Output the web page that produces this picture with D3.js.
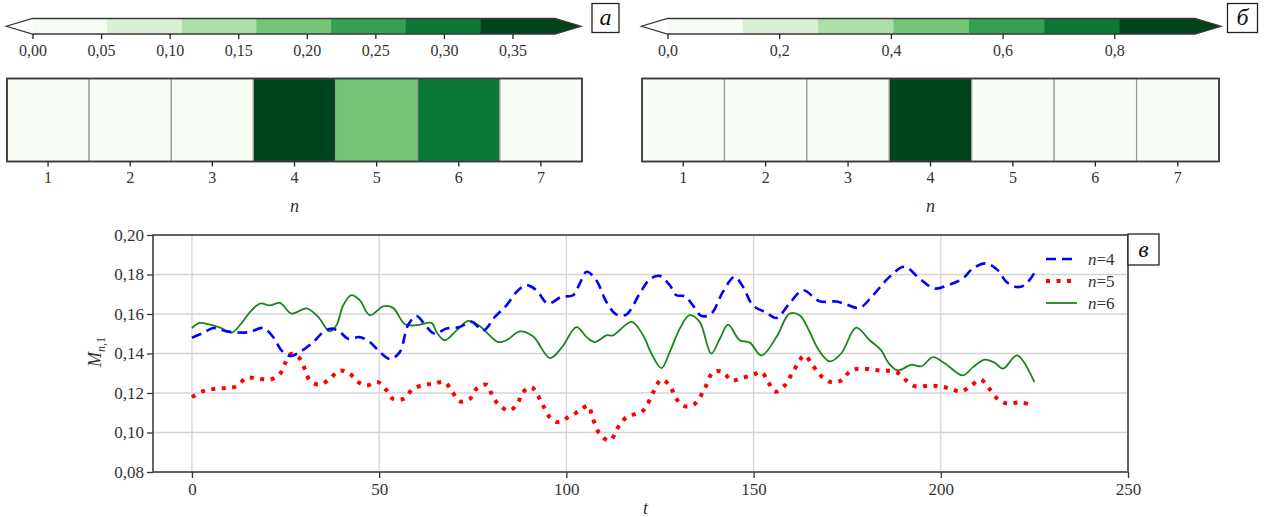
<!DOCTYPE html>
<html>
<head>
<meta charset="utf-8">
<script src="https://cdn.jsdelivr.net/npm/d3@7"></script>
<style>
  body { margin: 0; background: #fff; }
  svg text { font-family: "Liberation Serif", "Times New Roman", Tinos, "DejaVu Serif", serif !important; }
</style>
</head>
<body>
<script>
// values
var cells = [1, 2, 3, 4, 5, 6, 7];
var valuesA = [0.04, 0.03, 0.04, 0.36, 0.19, 0.30, 0.04];
var valuesB = [0.01, 0.01, 0.02, 0.93, 0.01, 0.01, 0.01];
var ticksA = [0, 0.05, 0.10, 0.15, 0.20, 0.25, 0.30, 0.35];
var ticksB = [0, 0.2, 0.4, 0.6, 0.8];
var greens = ["#f7fcf5", "#d9f0d3", "#aedea7", "#73c476", "#37a055", "#0b7734", "#00441b"];

var xTicks = [0, 50, 100, 150, 200, 250];
var yTicks = [0.08, 0.10, 0.12, 0.14, 0.16, 0.18, 0.20];

var n4 = [[0,0.148],[3,0.1504],[5.7,0.1529],[9.3,0.1512],[12.8,0.1506],[15.5,0.1509],[19,0.1529],[21.7,0.1483],[23.9,0.1416],[26.2,0.1387],[28.8,0.1407],[32.4,0.1458],[35.1,0.1509],[37.3,0.1526],[39.5,0.1509],[41.7,0.1475],[44.8,0.1483],[47.5,0.1458],[50.2,0.1407],[52.9,0.1372],[55.5,0.1407],[57.7,0.1543],[60,0.159],[62.7,0.1534],[64.9,0.15],[68,0.1526],[71.5,0.1534],[74.7,0.156],[77.8,0.1517],[80.9,0.1585],[84,0.1644],[86.7,0.1712],[89.3,0.1746],[92,0.172],[95.1,0.1653],[98.7,0.1687],[101.8,0.1695],[103.6,0.1755],[105.4,0.1814],[108,0.1771],[110.7,0.1661],[113.4,0.1597],[116,0.1597],[119.6,0.1704],[122.3,0.1776],[124.9,0.1793],[127.6,0.1746],[129.4,0.1695],[131.6,0.169],[133.8,0.1644],[136.1,0.159],[138.7,0.1602],[141.8,0.1712],[144.9,0.1788],[147.2,0.1737],[149.8,0.1644],[153.4,0.1607],[156.1,0.158],[159.6,0.1653],[163.2,0.172],[167.6,0.1665],[172.1,0.1663],[174.8,0.1648],[178.3,0.1631],[181.9,0.1695],[186.3,0.1788],[190.3,0.1839],[194.3,0.178],[198.3,0.1729],[201.9,0.1746],[205.9,0.178],[208.6,0.1831],[212.1,0.1856],[215.2,0.1822],[217.5,0.1763],[220.1,0.1737],[222.4,0.1746],[225,0.1808]];

var n5 = [[0,0.1179],[3,0.1209],[6.1,0.1221],[9.3,0.1226],[11.9,0.1234],[14.6,0.1277],[17.3,0.1274],[20.8,0.1268],[23.5,0.1297],[24.8,0.1348],[26.6,0.1399],[28.8,0.1374],[30.2,0.1319],[31.5,0.1263],[34.2,0.1242],[36.8,0.1272],[39.5,0.1314],[42.2,0.1297],[44.4,0.1255],[46.6,0.1238],[49.7,0.1255],[52,0.1213],[53.7,0.117],[56.4,0.117],[59.1,0.1221],[62.2,0.1242],[64.4,0.1246],[67.5,0.1255],[69.3,0.1213],[71.5,0.1158],[74.2,0.117],[76,0.1221],[78.7,0.1242],[80.4,0.1179],[82.2,0.1136],[84.9,0.1111],[87.1,0.1153],[88.4,0.1204],[90.7,0.1229],[92.4,0.1187],[93.8,0.1136],[95.6,0.1077],[97.8,0.1052],[100.5,0.1077],[103.6,0.1111],[105.8,0.1136],[107.1,0.1069],[108.9,0.0993],[111.6,0.0959],[113.8,0.1026],[116,0.1077],[120.5,0.1111],[123.2,0.1204],[125.4,0.1268],[127.6,0.1238],[129.4,0.117],[131.6,0.1133],[134.3,0.1145],[136.9,0.1221],[139.2,0.1306],[141.8,0.1306],[144.1,0.1263],[146.7,0.1275],[149.8,0.1292],[152.1,0.1306],[153.9,0.1255],[155.8,0.1207],[158.3,0.1238],[160.5,0.1306],[163.6,0.139],[165.8,0.1339],[168.1,0.1285],[170.7,0.1255],[173.4,0.1263],[176,0.1314],[179.2,0.1323],[183.6,0.1314],[188.1,0.1306],[190.8,0.1263],[193.4,0.1233],[197,0.1238],[200.1,0.1233],[202.8,0.1221],[205.4,0.1207],[208.1,0.1238],[210.7,0.1267],[213,0.1221],[215.2,0.117],[217.9,0.1145],[221,0.1153],[224.1,0.1141]];

var n6 = [[0,0.1529],[2.1,0.1555],[4.8,0.1546],[7.5,0.1531],[10.6,0.1506],[12.8,0.1543],[15.5,0.161],[18.2,0.1653],[20.8,0.1644],[23.5,0.1656],[26.6,0.1602],[30.6,0.1628],[33.7,0.1585],[36.8,0.1512],[38.6,0.1543],[40.4,0.1644],[42.6,0.1695],[44.8,0.167],[47.5,0.1594],[51.1,0.1639],[53.7,0.1631],[56.9,0.1548],[60,0.1543],[64,0.1555],[65.3,0.1509],[67.5,0.1467],[70.7,0.1517],[73.8,0.1565],[76.9,0.1538],[81.8,0.1458],[84,0.1467],[87.6,0.1512],[91.1,0.1487],[95.6,0.1377],[98.7,0.1428],[102.7,0.1534],[105.4,0.1483],[107.6,0.1458],[110.7,0.1492],[112.5,0.1492],[117.4,0.156],[120.5,0.1492],[122.7,0.14],[125.4,0.1326],[127.6,0.1407],[130.3,0.1526],[132.9,0.1594],[135.6,0.156],[138.7,0.14],[141,0.1475],[143.2,0.1546],[146.3,0.1467],[149,0.1455],[152.1,0.139],[156.1,0.1483],[159.6,0.1602],[162.3,0.1594],[165,0.1509],[167.2,0.1424],[170.3,0.136],[173.4,0.14],[177.4,0.1531],[181,0.1467],[184.1,0.1416],[185.9,0.1356],[188.5,0.1314],[192.1,0.1343],[194.8,0.1335],[197.9,0.1382],[201,0.1351],[205.9,0.1289],[208.6,0.1331],[211.7,0.1369],[214.4,0.1353],[216.6,0.1323],[220.4,0.139],[225,0.1255]];

var svgWidth = 1270;
var svgHeight = 517;
var frameColor = "#3a3a3a";
var textColor = "#333";

var svg = d3.select("body")
  .append("svg")
  .attr("width", svgWidth)
  .attr("height", svgHeight);

var locale = d3.formatLocale({decimal: ",", thousands: " ", grouping: [3], currency: ["", ""]});

// colorbar with both ends extended
function drawColorbar(x0, x1, vmax, ticks, fmt) {
  var top = 18.5, h = 15.5, ext = 26;
  var cx = d3.scaleLinear().domain([0, vmax]).range([x0, x1]);
  var g = svg.append("g");
  var step = vmax / greens.length;
  g.selectAll("rect").data(greens).enter().append("rect")
    .attr("x", (d, i) => cx(i * step))
    .attr("y", top)
    .attr("width", (d, i) => cx((i + 1) * step) - cx(i * step) + 0.5)
    .attr("height", h)
    .attr("fill", d => d);
  g.append("path")
    .attr("d", `M${x0},${top}L${x0 - ext},${top + h / 2}L${x0},${top + h}Z`)
    .attr("fill", "#fff");
  g.append("path")
    .attr("d", `M${x1},${top}L${x1 + ext},${top + h / 2}L${x1},${top + h}Z`)
    .attr("fill", greens[6]);
  g.append("path")
    .attr("d", `M${x0},${top}L${x1},${top}L${x1 + ext},${top + h / 2}L${x1},${top + h}L${x0},${top + h}L${x0 - ext},${top + h / 2}Z`)
    .attr("fill", "none")
    .attr("stroke", frameColor)
    .attr("stroke-width", 1.3);
  var ax = g.append("g")
    .attr("transform", `translate(0,${top + h})`)
    .call(d3.axisBottom(cx).tickValues(ticks).tickFormat(locale.format(fmt)).tickSize(5).tickPadding(6));
  ax.select(".domain").remove();
  ax.selectAll("line").attr("stroke", "#222").attr("stroke-width", 1.3);
  ax.selectAll("text").attr("font-size", 16).attr("fill", textColor);
}

function drawHeatmap(x0, x1, values, vmax) {
  var top = 78.5, bottom = 161.5;
  var hx = d3.scaleBand().domain(cells).range([x0, x1]);
  var color = d3.scaleQuantize().domain([0, vmax]).range(greens);
  var g = svg.append("g");
  g.selectAll("rect").data(values).enter().append("rect")
    .attr("x", (d, i) => hx(cells[i]))
    .attr("y", top)
    .attr("width", hx.bandwidth())
    .attr("height", bottom - top)
    .attr("fill", d => color(d))
    .attr("stroke", "#999")
    .attr("stroke-width", 1.2);
  g.append("rect")
    .attr("x", x0).attr("y", top)
    .attr("width", x1 - x0).attr("height", bottom - top)
    .attr("fill", "none")
    .attr("stroke", frameColor)
    .attr("stroke-width", 1.8);
  var ax = g.append("g")
    .attr("transform", `translate(0,${bottom})`)
    .call(d3.axisBottom(hx).tickSize(5).tickPadding(5));
  ax.select(".domain").remove();
  ax.selectAll("line").attr("stroke", "#222").attr("stroke-width", 1.3);
  ax.selectAll("text").attr("font-size", 16).attr("fill", textColor);
  g.append("text")
    .attr("x", (x0 + x1) / 2).attr("y", 212)
    .attr("text-anchor", "middle")
    .attr("font-size", 18).attr("font-style", "italic").attr("fill", textColor)
    .text("n");
}

function labelBox(x, y, w, h, txt) {
  svg.append("rect")
    .attr("x", x).attr("y", y).attr("width", w).attr("height", h)
    .attr("fill", "#fff").attr("stroke", "#222").attr("stroke-width", 1.3);
  svg.append("text")
    .attr("x", x + w / 2).attr("y", y + h / 2 + 7)
    .attr("text-anchor", "middle")
    .attr("font-size", 24).attr("font-style", "italic").attr("fill", "#111")
    .text(txt);
}

drawColorbar(32.5, 555, 0.381, ticksA, ".2f");
drawColorbar(667.5, 1195, 0.9445, ticksB, ".1f");
drawHeatmap(7, 582, valuesA, 0.381);
drawHeatmap(642, 1219, valuesB, 0.9445);
labelBox(592, 3.5, 27, 29, "а");
labelBox(1227.5, 3.5, 30, 29, "б");

// line chart
var plot = {left: 153, right: 1128, top: 235, bottom: 472};
var xScale = d3.scaleLinear().domain([-10.4, 250]).range([plot.left, plot.right]);
var yScale = d3.scaleLinear().domain([0.08, 0.20]).range([plot.bottom, plot.top]);

var chartGroup = svg.append("g");

chartGroup.append("g")
  .selectAll("line").data(xTicks).enter().append("line")
  .attr("x1", d => xScale(d)).attr("x2", d => xScale(d))
  .attr("y1", plot.top).attr("y2", plot.bottom)
  .attr("stroke", "#d4d4d4").attr("stroke-width", 1.3);
chartGroup.append("g")
  .selectAll("line").data(yTicks).enter().append("line")
  .attr("x1", plot.left).attr("x2", plot.right)
  .attr("y1", d => yScale(d)).attr("y2", d => yScale(d))
  .attr("stroke", "#d4d4d4").attr("stroke-width", 1.3);

var drawLine = d3.line()
  .x(d => xScale(d[0]))
  .y(d => yScale(d[1]))
  .curve(d3.curveCatmullRom.alpha(0.5));

var series = [
  {name: "4", data: n4, color: "#0000ff", width: 2.6, dash: "10,6"},
  {name: "5", data: n5, color: "#ff0000", width: 4, dash: "4,6.5"},
  {name: "6", data: n6, color: "#1a851a", width: 1.8, dash: null}
];

series.slice().reverse().forEach(function (s) {
  chartGroup.append("path")
    .attr("d", drawLine(s.data))
    .attr("fill", "none")
    .attr("stroke", s.color)
    .attr("stroke-width", s.width)
    .attr("stroke-dasharray", s.dash);
});

chartGroup.append("rect")
  .attr("x", plot.left).attr("y", plot.top)
  .attr("width", plot.right - plot.left).attr("height", plot.bottom - plot.top)
  .attr("fill", "none").attr("stroke", "#555").attr("stroke-width", 1.8);

var bottomAxis = chartGroup.append("g")
  .attr("transform", `translate(0,${plot.bottom})`)
  .call(d3.axisBottom(xScale).tickValues(xTicks).tickSize(6).tickPadding(5));
var leftAxis = chartGroup.append("g")
  .attr("transform", `translate(${plot.left},0)`)
  .call(d3.axisLeft(yScale).tickValues(yTicks).tickFormat(locale.format(".2f")).tickSize(6).tickPadding(3));
[bottomAxis, leftAxis].forEach(function (ax) {
  ax.select(".domain").remove();
  ax.selectAll("line").attr("stroke", "#333").attr("stroke-width", 1.3);
  ax.selectAll("text").attr("font-size", 17).attr("fill", textColor);
});

// axis titles
svg.append("text")
  .attr("x", (plot.left + plot.right) / 2 + 5).attr("y", 514)
  .attr("text-anchor", "middle")
  .attr("font-size", 18).attr("font-style", "italic").attr("fill", textColor)
  .text("t");

var yTitle = svg.append("text")
  .attr("transform", "translate(101,352) rotate(-90)")
  .attr("text-anchor", "middle")
  .attr("font-size", 18).attr("fill", textColor);
yTitle.append("tspan").attr("font-style", "italic").text("M");
yTitle.append("tspan").attr("font-style", "italic").attr("font-size", 12).attr("dy", 4).text("n");
yTitle.append("tspan").attr("font-size", 12).text(",1");

// legend
var legend = svg.append("g");
series.forEach(function (s, i) {
  var y = 259 + i * 22;
  legend.append("line")
    .attr("x1", 1046).attr("x2", 1077)
    .attr("y1", y).attr("y2", y)
    .attr("stroke", s.color)
    .attr("stroke-width", s.width)
    .attr("stroke-dasharray", s.dash);
  var t = legend.append("text")
    .attr("x", 1088).attr("y", y + 6)
    .attr("font-size", 17).attr("fill", textColor);
  t.append("tspan").attr("font-style", "italic").text("n");
  t.append("tspan").text("=" + s.name);
});

labelBox(1128, 234, 31, 31, "в");
</script>
</body>
</html>
